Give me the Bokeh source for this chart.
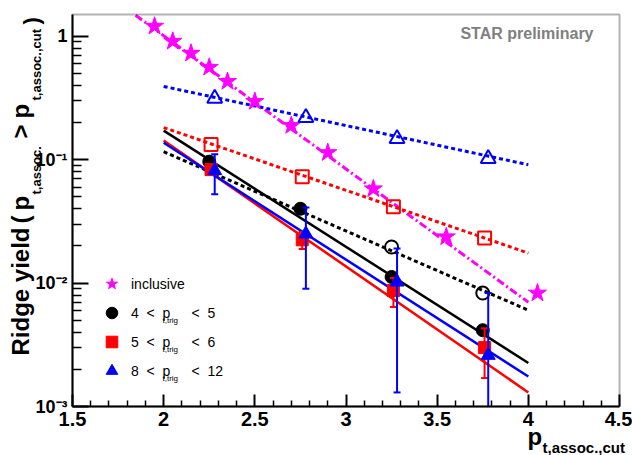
import math
from bokeh.plotting import figure
from bokeh.models import (Range1d, FixedTicker, CustomJSTickFormatter, Label,
                          Legend, LegendItem, BoxAnnotation)
from bokeh.embed import file_html
from bokeh.resources import INLINE

# ---------------- data ----------------
incl_x = [1.95, 2.05, 2.15, 2.25, 2.35, 2.50, 2.70, 2.90, 3.15, 3.55, 4.05]
incl_y = [1.205, 0.91, 0.728, 0.56, 0.43, 0.296, 0.189, 0.114, 0.058, 0.0237, 0.0083]

blk_x = [2.25, 2.75, 3.25, 3.75]
blk_y = [0.0964, 0.040, 0.0112, 0.00415]
blk_open_x = [3.25, 3.75]
blk_open_y = [0.0196, 0.0083]

red_x = [2.26, 2.76, 3.26, 3.76]
red_y = [0.083, 0.0224, 0.0087, 0.0030]
red_err = [0.006, 0.0035, 0.0023, 0.0013]
red_open_y = [0.1324, 0.0728, 0.0415, 0.0232]

blue_x = [2.28, 2.78, 3.28, 3.78]
blue_y = [0.0815, 0.025, 0.0102, 0.0026]
blue_err = [0.029, 0.016, 0.0089, 0.0057]
blue_open_y = [0.313, 0.219, 0.148, 0.102]

# exponential fits: end points (inclusive fit leaves the frame at the top)
fit_x = [2.0, 4.0]
incl_fit_x = [1.846, 4.0]
incl_fit_y = [1.48, 0.0070]
blk_fit_y = [0.172, 0.00225]
blk_open_fit_y = [0.116, 0.00603]
red_fit_y = [0.143, 0.0013]
red_open_fit_y = [0.182, 0.0175]
blue_fit_y = [0.137, 0.00175]
blue_open_fit_y = [0.392, 0.091]

# axes
x_min, x_max = 1.5, 4.5
y_min, y_max = 1e-3, 1.5
x_ticks = [1.5, 2.0, 2.5, 3.0, 3.5, 4.0, 4.5]
x_tick_labels = ["1.5", "2", "2.5", "3", "3.5", "4", "4.5"]
y_ticks = [1e-3, 1e-2, 1e-1, 1.0]
y_tick_labels = ["10\u207b\u00b3", "10\u207b\u00b2", "10\u207b\u00b9", "1"]

NB = "\u00a0"
legend_labels = ["inclusive", f"4{NB}{NB}<{NB}{NB}p", f"5{NB}{NB}<{NB}{NB}p", f"8{NB}{NB}<{NB}{NB}p"]
legend_sub = "t,trig"
legend_tails = [f"<{NB}{NB}5", f"<{NB}{NB}6", f"<{NB}{NB}12"]

MAGENTA = "#ff00ff"
RED = "#ff0000"
BLUE = "#0000ff"
BLACK = "#000000"
FONT = "Liberation Sans"

# ---------------- page geometry: the drawing area covers the whole canvas ----------------
W, H = 632, 455
FL, FR, FT, FB = 72, 619, 14, 406        # pixel box of the plotted frame
LOGSPAN = math.log10(y_max) - math.log10(y_min)


def dx(px):
    return x_min + (px - FL) * (x_max - x_min) / (FR - FL)


def dy(py):
    return 10 ** (math.log10(y_min) + (FB - py) * LOGSPAN / (FB - FT))


p = figure(width=W, height=H, x_range=Range1d(dx(0), dx(W)), y_range=Range1d(dy(H), dy(0)),
           y_axis_type="log", output_backend="svg", toolbar_location=None,
           min_border_left=0, min_border_right=0, min_border_top=0, min_border_bottom=0)
p.grid.visible = False
p.outline_line_color = None
p.background_fill_color = "white"
p.border_fill_color = "white"

fmt_code = """
for (let i = 0; i < vals.length; i++) {
  if (Math.abs(vals[i] - tick) <= 1e-6 * Math.abs(vals[i])) return labs[i];
}
return "";
"""
x_minor = [round(1.5 + 0.1 * i, 3) for i in range(31) if i % 5]
y_minor = [k * 10.0 ** d for d in range(-3, 1) for k in range(2, 10)]

xa = p.xaxis[0]
ya = p.yaxis[0]
xa.ticker = FixedTicker(ticks=x_ticks, minor_ticks=x_minor)
ya.ticker = FixedTicker(ticks=y_ticks, minor_ticks=y_minor)
xa.formatter = CustomJSTickFormatter(args=dict(vals=x_ticks, labs=x_tick_labels), code=fmt_code)
ya.formatter = CustomJSTickFormatter(args=dict(vals=y_ticks, labs=y_tick_labels), code=fmt_code)
xa.fixed_location = y_min
ya.fixed_location = x_min
xa.bounds = (x_min, x_max)
ya.bounds = (y_min, y_max)

for ax, tin, mtin, fs in ((xa, 12, 6, "20px"), (ya, 16, 9, "18px")):
    ax.axis_line_width = 2
    ax.major_tick_in = tin
    ax.major_tick_out = 0
    ax.minor_tick_in = mtin
    ax.minor_tick_out = 0
    ax.major_tick_line_width = 2
    ax.minor_tick_line_width = 1.5
    ax.major_label_text_font = FONT
    ax.major_label_text_font_style = "bold"
    ax.major_label_text_font_size = fs
    ax.major_label_text_color = "black"
    ax.major_label_standoff = 5

# frame box
p.add_layout(BoxAnnotation(left=x_min, right=x_max, bottom=y_min, top=y_max,
                           fill_alpha=0, line_color="black", line_width=2))

# ---------------- fit lines ----------------
p.line(incl_fit_x, incl_fit_y, line_color=MAGENTA, line_width=3, line_dash="8 3 2 3")
p.line(fit_x, blue_open_fit_y, line_color=BLUE, line_width=3, line_dash="4 3")
p.line(fit_x, red_open_fit_y, line_color=RED, line_width=3, line_dash="4 3")
p.line(fit_x, blk_open_fit_y, line_color=BLACK, line_width=3, line_dash="4 3")
p.line(fit_x, blk_fit_y, line_color=BLACK, line_width=2.5)
p.line(fit_x, red_fit_y, line_color=RED, line_width=2.5)
p.line(fit_x, blue_fit_y, line_color=BLUE, line_width=2.5)

# ---------------- markers ----------------
r_incl = p.scatter(incl_x, incl_y, marker="star", size=19, fill_color=MAGENTA, line_color=MAGENTA)
p.scatter(blue_x, blue_open_y, marker="triangle", size=15, fill_color=None, line_color=BLUE, line_width=2)
p.scatter(red_x, red_open_y, marker="square", size=13, fill_color=None, line_color=RED, line_width=2)
p.scatter(blk_open_x, blk_open_y, marker="circle", size=13, fill_color=None, line_color=BLACK, line_width=2)
r_blk = p.scatter(blk_x, blk_y, marker="circle", size=13, fill_color=BLACK, line_color=BLACK)


def error_bars(x, y, err, color):
    lo_raw = [v - e for v, e in zip(y, err)]
    lo = [v if v > y_min else y_min for v in lo_raw]
    hi = [v + e for v, e in zip(y, err)]
    p.segment(x0=x, y0=lo, x1=x, y1=hi, line_color=color, line_width=2)
    cx = [xx for xx, v in zip(x, lo_raw) if v > y_min] + list(x)
    cy = [v for v in lo_raw if v > y_min] + hi
    p.scatter(cx, cy, marker="dash", size=7, line_color=color, line_width=2)


error_bars(red_x, red_y, red_err, RED)
r_red = p.scatter(red_x, red_y, marker="square", size=12, fill_color=RED, line_color=RED)
error_bars(blue_x, blue_y, blue_err, BLUE)
r_blue = p.scatter(blue_x, blue_y, marker="triangle", size=14, fill_color=BLUE, line_color=BLUE)

# ---------------- legend ----------------
legend = Legend(items=[LegendItem(label=legend_labels[0], renderers=[r_incl]),
                       LegendItem(label=legend_labels[1], renderers=[r_blk]),
                       LegendItem(label=legend_labels[2], renderers=[r_red]),
                       LegendItem(label=legend_labels[3], renderers=[r_blue])],
                location=(97, 70), padding=0, margin=0, spacing=0,
                glyph_width=29, glyph_height=29, label_height=29, label_standoff=5,
                label_text_font=FONT, label_text_font_size="14px", label_text_color="black",
                border_line_alpha=0, background_fill_alpha=0)
p.add_layout(legend)


def txt(px, py, s, size, bold=True, angle=0.0, align="left", baseline="alphabetic", color="black"):
    p.add_layout(Label(x=dx(px), y=dy(py), text=s, text_font=FONT, text_font_size=f"{size}px",
                       text_font_style="bold" if bold else "normal", angle=angle,
                       text_align=align, text_baseline=baseline, text_color=color))


V = math.pi / 2
# y-axis title (vertical, read bottom to top)
txt(20, 355, "Ridge yield", 24, angle=V)
txt(20, 223, "(", 24, angle=V)
txt(20, 210, "p", 24, angle=V)
txt(36, 194, "t,assoc.", 13, angle=V)
txt(20, 138, ">", 24, angle=V)
txt(20, 118, "p", 24, angle=V)
txt(36, 100, "t,assoc.,cut", 13, angle=V)
txt(31, 24, ")", 22, angle=V)
# x-axis title
txt(527, 436, "p", 24)
txt(542, 447, "t,assoc.,cut", 15)
# legend subscripts and tails
for row_y, tail in zip([312, 341, 370], legend_tails):
    txt(162, row_y + 8, legend_sub, 8, bold=False)
    txt(191, row_y, tail, 14, bold=False, baseline="middle")
# STAR preliminary
txt(593, 33, "STAR preliminary", 16, align="right", color="#808080")

open("out.html", "w").write(file_html(p, INLINE))
